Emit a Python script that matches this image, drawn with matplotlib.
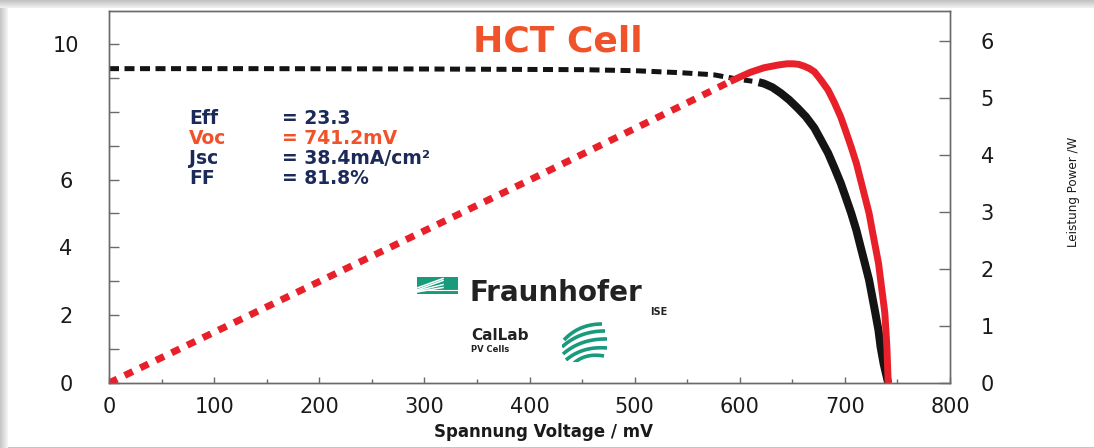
import matplotlib
matplotlib.use('Agg')
import matplotlib.pyplot as plt
import numpy as np
from matplotlib.patches import Rectangle
from matplotlib.ticker import MultipleLocator

# ---------------------------
# Data (IV curve on the left axis, power curve on the right axis)
# ---------------------------
voc = 741.2

# current, dashed part / solid part
v_iv_dash = [0, 150, 300, 450, 500, 544, 575, 600, 612]
i_iv_dash = [9.27, 9.27, 9.26, 9.24, 9.21, 9.15, 9.09, 8.95, 8.90]
v_iv_solid = [618, 623, 631, 639, 647, 655, 663, 671, 677, 684, 690, 696, 701, 706,
              711, 715, 719, 723, 726, 729, 732, 734, 737, voc]
i_iv_solid = [8.87, 8.83, 8.72, 8.55, 8.35, 8.11, 7.85, 7.52, 7.18, 6.78, 6.35, 5.90,
              5.46, 5.01, 4.50, 4.01, 3.53, 3.04, 2.55, 2.06, 1.55, 1.06, 0.55, 0.0]

# power, dotted part / solid part
v_p_dot = [0, 200, 400, 544, 591]
p_p_dot = [0.0, 1.78, 3.56, 4.86, 5.29]
v_p_solid = [591, 598, 610, 623, 637, 645, 651, 656, 661, 666, 671, 677, 684, 690,
             696, 701, 706, 711, 715, 719, 723, 726, 729, 732, 734, 736, 738, 740, voc]
p_p_solid = [5.29, 5.35, 5.45, 5.53, 5.58, 5.60, 5.60, 5.59, 5.56, 5.52, 5.46, 5.32,
             5.14, 4.92, 4.67, 4.41, 4.14, 3.85, 3.56, 3.27, 2.98, 2.68, 2.39, 2.10,
             1.81, 1.52, 1.23, 0.62, 0.0]

x_ticks = list(range(0, 801, 100))
left_ticks = list(range(0, 11))
left_labels = ['0', '', '2', '', '4', '', '6', '', '', '', '10']
right_ticks = list(range(0, 7))

stat_names = ['Eff', 'Voc', 'Jsc', 'FF']
stat_values = ['= 23.3', '= 741.2mV', '= 38.4mA/cm²', '= 81.8%']

# ---------------------------
# Colours
# ---------------------------
RED = '#e8202a'
ORANGE = '#f0532a'
NAVY = '#1c2a5a'
TEAL = '#1a9a7c'
SPINE = '#6a6a6a'
INK = '#1a1a1a'

W, H = 1094, 448


def fx(x):
    return x / W


def fy(y):
    return 1 - y / H


fig = plt.figure(figsize=(W / 100, H / 100), dpi=100)
fig.patch.set_facecolor('white')

# card shadow along the top and left edge
for k in range(8):
    g = 0.76 + 0.025 * k
    fig.patches.append(Rectangle((0, fy(k + 1)), 1, 1 / H, transform=fig.transFigure,
                                 facecolor=(g, g, g), edgecolor='none', zorder=0))
    fig.patches.append(Rectangle((fx(k), 0), 1 / W, fy(8), transform=fig.transFigure,
                                 facecolor=(g + 0.02, g + 0.02, g + 0.02), edgecolor='none', zorder=0))
fig.patches.append(Rectangle((fx(8), 0), 1, 1.5 / H, transform=fig.transFigure,
                             facecolor='#c4c4c4', edgecolor='none', zorder=0))

ax = fig.add_axes([fx(109), fy(383), fx(950) - fx(109), fy(11) - fy(383)])
ax2 = ax.twinx()

# ---------------------------
# Curves
# ---------------------------
ax.plot(v_iv_dash, i_iv_dash, color='#141414', lw=3.6, dashes=(2.0, 1.1))
ax.plot(v_iv_solid, i_iv_solid, color='#141414', lw=5.8,
        solid_capstyle='butt', solid_joinstyle='round')
ax2.plot(v_p_dot, p_p_dot, color=RED, lw=5.0, dashes=(1.3, 1.2))
ax2.plot(v_p_solid, p_p_solid, color=RED, lw=5.0,
         solid_capstyle='butt', solid_joinstyle='round')

# ---------------------------
# Axes
# ---------------------------
ax.set_xlim(0, 800)
ax.set_ylim(0, 10.97)
ax2.set_ylim(0, 6.526)

ax.set_xticks(x_ticks)
ax.xaxis.set_minor_locator(MultipleLocator(50))
ax.set_yticks(left_ticks)
ax.set_yticklabels(left_labels)
ax2.set_yticks(right_ticks)
ax2.set_yticklabels([str(t) for t in right_ticks])

for a in (ax, ax2):
    for s in a.spines.values():
        s.set_color(SPINE)
        s.set_linewidth(1.0)

ax.tick_params(axis='x', which='major', direction='in', length=4.5, width=1,
               color=SPINE, pad=10, labelsize=15, labelcolor=INK)
ax.tick_params(axis='x', which='minor', direction='in', length=2.8, width=1, color=SPINE)
ax.tick_params(axis='y', direction='in', length=7, width=1, color=SPINE,
               pad=31, labelsize=15, labelcolor=INK)
ax2.tick_params(axis='y', direction='in', length=8, width=1, color=SPINE,
                pad=27, labelsize=15, labelcolor=INK)
for lab in ax.get_yticklabels():
    lab.set_horizontalalignment('center')
for lab in ax2.get_yticklabels():
    lab.set_horizontalalignment('center')

ax.set_xlabel('Spannung Voltage / mV', fontsize=12, fontweight='bold', color=INK)
ax.xaxis.set_label_coords((543 - 109) / (950 - 109), -(432 - 383) / (383 - 11))
ax.xaxis.label.set_va('center')

fig.text(fx(1073), fy(192), 'Leistung Power /W', rotation=90, ha='center', va='center',
         fontsize=9.5, color=INK, fontstretch='condensed',
         family=['Liberation Sans Narrow', 'DejaVu Sans'])

# ---------------------------
# Title and cell parameters
# ---------------------------
fig.text(fx(558), fy(42), 'HCT Cell', ha='center', va='center', fontsize=26,
         fontweight='bold', color=ORANGE)

row_y = [118, 138, 159, 179]
for name, val, y in zip(stat_names, stat_values, row_y):
    c = ORANGE if name == 'Voc' else NAVY
    fig.text(fx(189), fy(y), name, ha='left', va='center', fontsize=13.5,
             fontweight='bold', color=c)
    fig.text(fx(282), fy(y), val, ha='left', va='center', fontsize=13.5,
             fontweight='bold', color=c)

# ---------------------------
# Fraunhofer / CalLab marks
# ---------------------------
logo = fig.add_axes([fx(417), fy(294), fx(458) - fx(417), fy(277) - fy(294)])
logo.set_xlim(0, 41)
logo.set_ylim(0, 17)
logo.axis('off')
logo.add_patch(Rectangle((0, 0), 41, 17, facecolor=TEAL, edgecolor='none'))
for y0, y1 in [(4, 13.5), (3, 9.5), (2, 6.5), (6, 15.5)]:
    logo.plot([0, 26], [y0, y1], color='white', lw=1.1)
logo.plot([0, 41], [4.5, 4.5], color='white', lw=0.8)

fig.text(fx(469), fy(293), 'Fraunhofer', ha='left', va='center', fontsize=20,
         fontweight='bold', color='#222222')
fig.text(fx(667), fy(312), 'ISE', ha='right', va='center', fontsize=7,
         fontweight='bold', color='#222222')
fig.text(fx(471), fy(335), 'CalLab', ha='left', va='center', fontsize=11,
         fontweight='bold', color='#222222')
fig.text(fx(471), fy(349), 'PV Cells', ha='left', va='center', fontsize=6,
         fontweight='bold', color='#222222')

swoosh = fig.add_axes([fx(562), fy(362), fx(610) - fx(562), fy(322) - fy(362)])
swoosh.set_xlim(0, 48)
swoosh.set_ylim(0, 40)
swoosh.axis('off')
t = np.linspace(0, 1, 30)
for sx, sy, ex, ey in [(2, 22, 40, 38), (0, 15, 43, 31), (1, 8, 45, 23),
                       (4, 2, 45, 14), (10, -3, 42, 6)]:
    cx, cy = (sx + ex) / 2 - 4, (sy + ey) / 2 + 8
    xs = (1 - t) ** 2 * sx + 2 * (1 - t) * t * cx + t ** 2 * ex
    ys = (1 - t) ** 2 * sy + 2 * (1 - t) * t * cy + t ** 2 * ey
    swoosh.plot(xs, ys, color=TEAL, lw=2.6, solid_capstyle='butt')

fig.savefig('out.png', dpi=100, facecolor=fig.get_facecolor())
